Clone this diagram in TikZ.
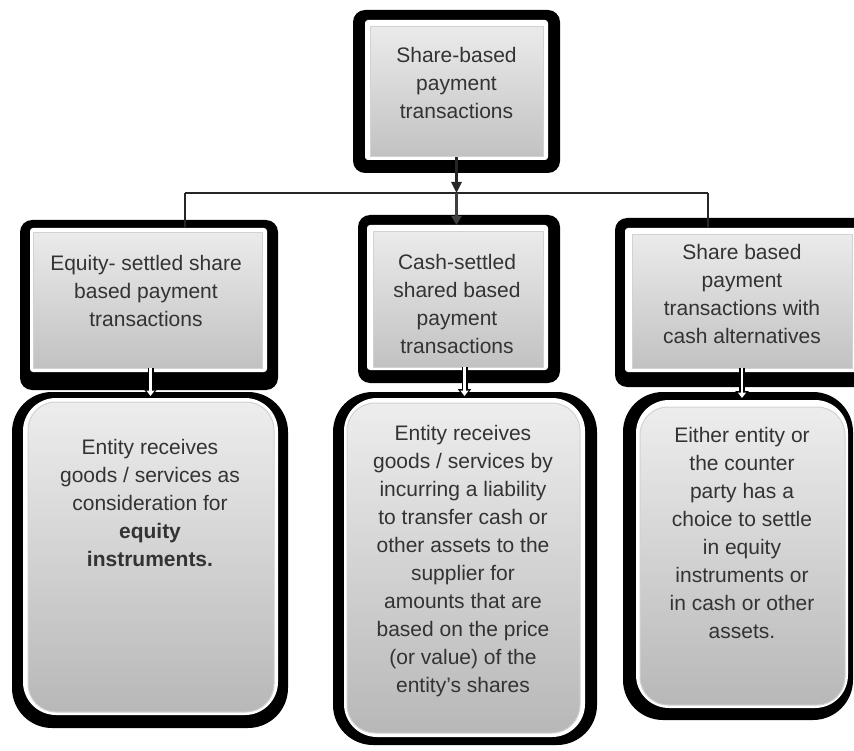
\documentclass[tikz,border=0pt]{standalone}
\usepackage{fontspec}
\setmainfont{Liberation Sans}
\usetikzlibrary{arrows.meta,calc}
\begin{document}
\begin{tikzpicture}[x=1pt,y=-1pt,
  every node/.style={inner sep=0pt,outer sep=0pt},
  txt/.style={font=\fontsize{21}{28}\selectfont, text=black!80, align=center, anchor=north},
  outerf/.style={fill=black, draw=none},
  innerw/.style={fill=white, draw=none},
  graytop/.style={draw=gray!35, line width=1pt, top color=gray!16, bottom color=gray!48},
  graybot/.style={draw=gray!35, line width=1pt, top color=gray!14, bottom color=gray!56, rounded corners=28pt},
  conn/.style={draw=black!85, line width=2.6pt},
  bus/.style={draw=black!85, line width=1.4pt},
  warrowout/.style={draw=black, line width=6pt, -{Triangle[width=13pt,length=9pt]}},
  warrowin/.style={draw=white, line width=2.8pt, shorten >=2pt, -{Triangle[width=8pt,length=5.5pt]}},
]
\useasboundingbox (0,0) rectangle (854,751);
\fill[white] (0,0) rectangle (854,751);

% top box
\node[outerf, rounded corners=12pt, minimum width=207pt, minimum height=163pt] (To) at (456.5,91.5) {};
\node[innerw, rounded corners=3pt, minimum width=183pt, minimum height=140pt] (Tw) at (456.5,90) {};
\node[graytop, minimum width=173pt, minimum height=130pt] (T) at (456.5,92) {};
\node[txt] (Tt) at (456.5,47) {Share-based\\payment\\transactions};

% second row frames
\node[outerf, rounded corners=12pt, minimum width=258pt, minimum height=170pt] (Lo) at (149,305) {};
\node[innerw, rounded corners=3pt, minimum width=237pt, minimum height=144pt] (Lw) at (148.5,300) {};
\node[outerf, rounded corners=12pt, minimum width=202pt, minimum height=168pt] (Mo) at (459,299) {};
\node[innerw, rounded corners=3pt, minimum width=181pt, minimum height=145pt] (Mw) at (457.5,297.5) {};
\node[outerf, rounded corners=12pt, minimum width=260pt, minimum height=169pt] (Ro) at (745,302.5) {};
\node[innerw, rounded corners=3pt, minimum width=233pt, minimum height=144pt] (Rw) at (741.5,300) {};

% bottom frames
\node[outerf, rounded corners=40pt, minimum width=276pt, minimum height=336pt] (LBo) at (150,560) {};
\node[innerw, rounded corners=33pt, minimum width=255pt, minimum height=317pt] (LBw) at (150.5,556.5) {};
\node[outerf, rounded corners=40pt, minimum width=264pt, minimum height=353pt] (MBo) at (465,568.5) {};
\node[innerw, rounded corners=33pt, minimum width=241pt, minimum height=339pt] (MBw) at (464.5,567.5) {};
\node[outerf, rounded corners=40pt, minimum width=230pt, minimum height=328pt] (RBo) at (738,556) {};
\node[innerw, rounded corners=33pt, minimum width=212pt, minimum height=308pt] (RBw) at (742,554) {};

% gray boxes
\node[graytop, minimum width=229pt, minimum height=135pt] (L) at (147.5,300.5) {};
\node[graytop, minimum width=170pt, minimum height=135pt] (M) at (458,299.5) {};
\node[graytop, minimum width=220pt, minimum height=133pt] (R) at (742,301.5) {};
\node[graybot, minimum width=246pt, minimum height=310pt] (LB) at (151,557) {};
\node[graybot, minimum width=233pt, minimum height=330pt] (MB) at (463.5,568) {};
\node[graybot, minimum width=205pt, minimum height=298pt] (RB) at (742.5,556) {};

% texts
\node[txt] (Lt) at (146,255) {Equity- settled share\\based payment\\transactions};
\node[txt] (Mt) at (457,254) {Cash-settled\\shared based\\payment\\transactions};
\node[txt] (Rt) at (742,244) {Share based\\payment\\transactions with\\cash alternatives};
\node[txt] (LBt) at (150,439) {Entity receives\\goods / services as\\consideration for\\\textbf{equity}\\\textbf{instruments.}};
\node[txt] (MBt) at (463,425) {Entity receives\\goods / services by\\incurring a liability\\to transfer cash or\\other assets to the\\supplier for\\amounts that are\\based on the price\\(or value) of the\\entity's shares};
\node[txt] (RBt) at (742,427) {Either entity or\\the counter\\party has a\\choice to settle\\in equity\\instruments or\\in cash or other\\assets.};

% connectors
\coordinate (busM) at (T.south |- 0,193);
\coordinate (busL) at (185,193);
\coordinate (busR) at (708,193);
\draw[bus] (busL) -- (busR);
\draw[conn] (busL) -- (busL |- Lw.north);
\draw[conn] (busR) -- (busR |- Rw.north);
\draw[conn, -{Triangle[width=10pt,length=11pt]}] (T.south) -- (busM);
\draw[conn, draw=black!75, -{Triangle[width=10pt,length=9pt]}] (busM) -- (busM |- Mw.north);

% white arrows
\draw[warrowout] (L.south -| LBw.north) -- (LBw.north);
\draw[warrowin] (L.south -| LBw.north) -- (LBw.north);
\draw[warrowout] (M.south -| MBw.north) -- (MBw.north);
\draw[warrowin] (M.south -| MBw.north) -- (MBw.north);
\draw[warrowout] (R.south -| RBw.north) -- (RBw.north);
\draw[warrowin] (R.south -| RBw.north) -- (RBw.north);
\end{tikzpicture}
\end{document}
